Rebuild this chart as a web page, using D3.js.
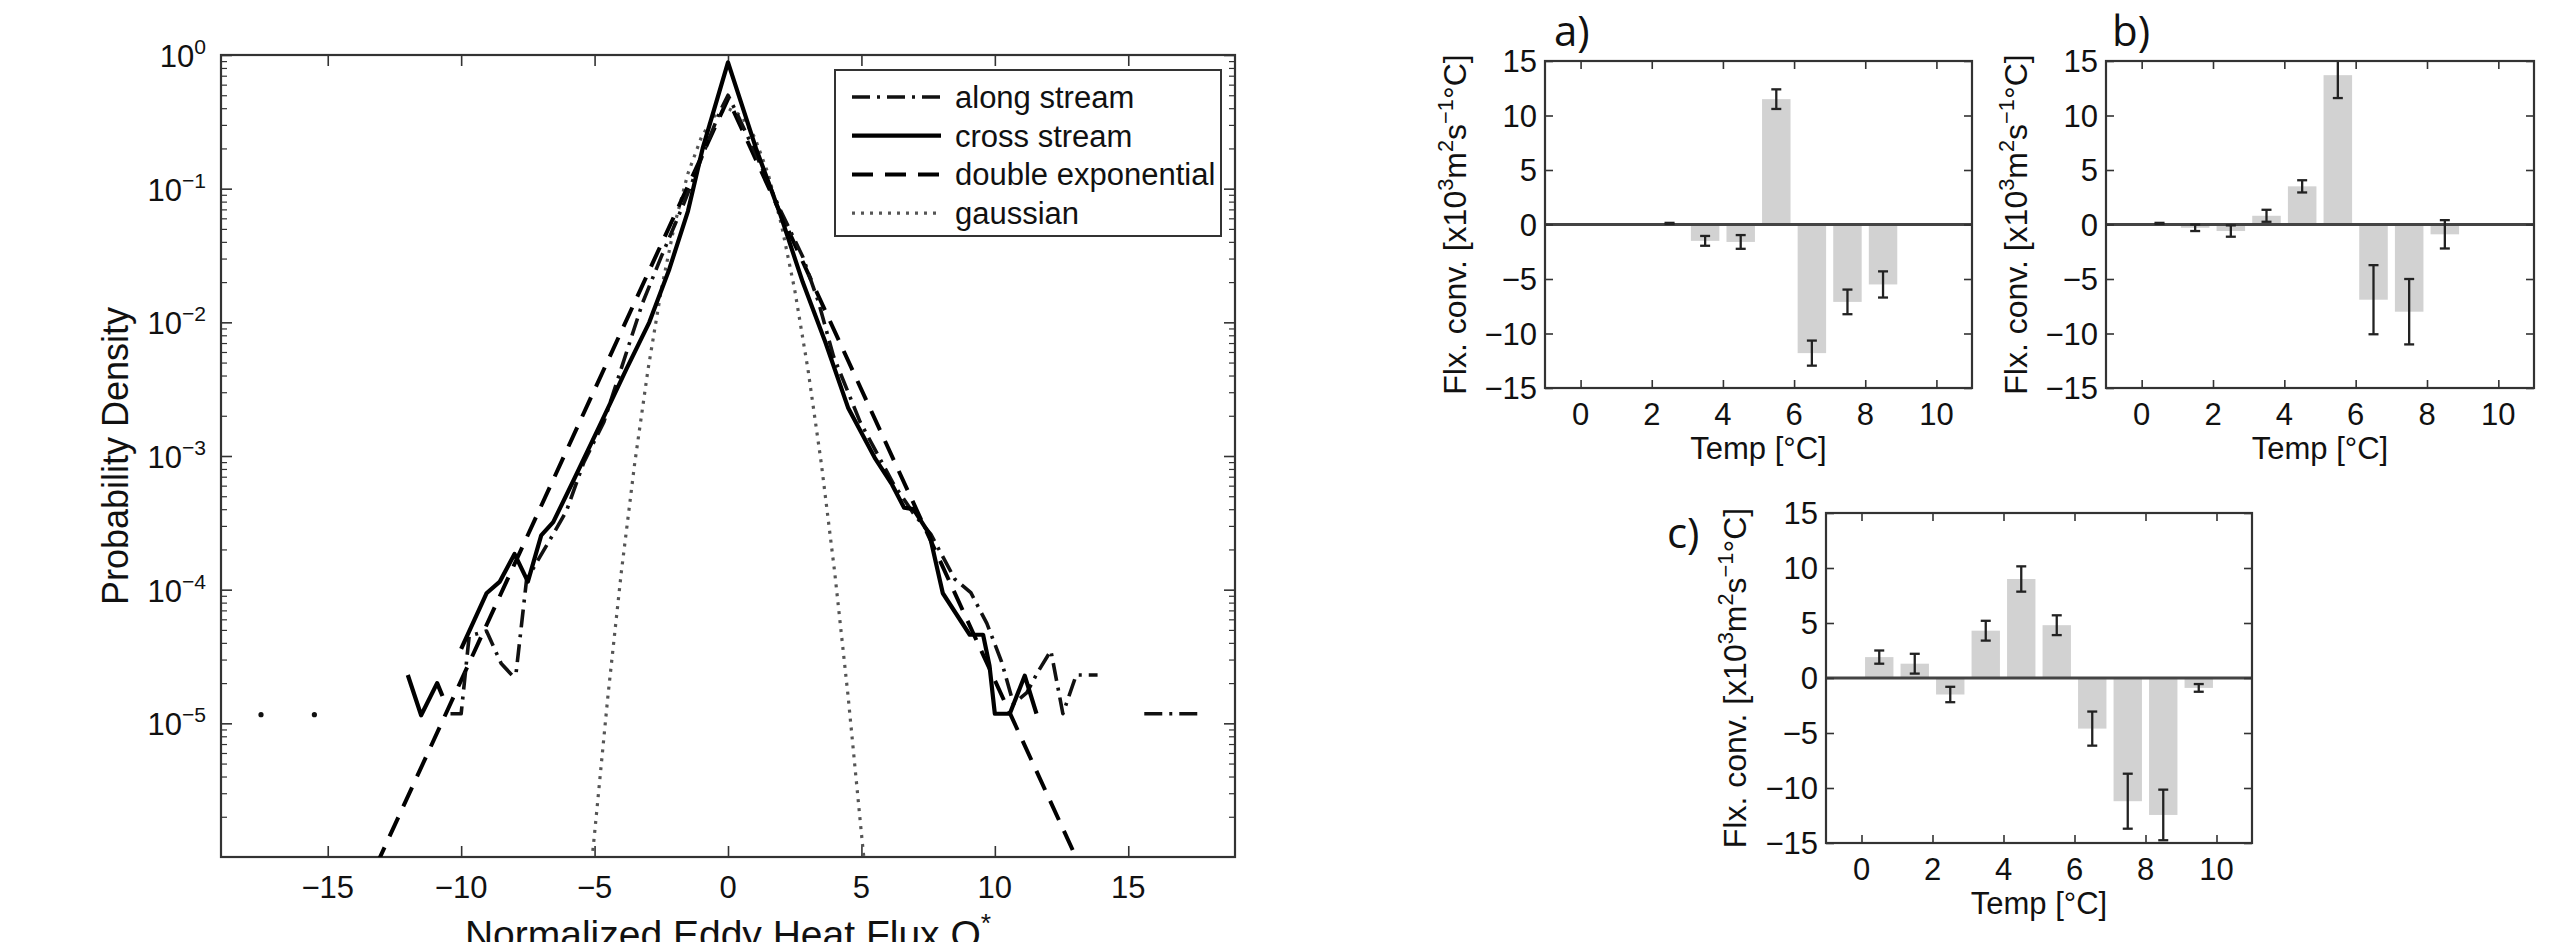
<!DOCTYPE html>
<html>
<head>
<meta charset="utf-8">
<script src="https://cdn.jsdelivr.net/npm/d3@7"></script>
<style>
  body { margin: 0; background: #fff; }
  text { font-family: "Liberation Sans", Arial, Helvetica, sans-serif; fill: #111; }
  .panel-letter { font-family: "Open Sans", "Liberation Sans", sans-serif; }
</style>
</head>
<body>
<svg id="fig" width="2572" height="942"></svg>
<script>
// ---------- dados: painel da PDF (esquerda) ----------
const pdfXDomain = [-19, 19];
const pdfYDomain = [1e-6, 1];
const pdfXTicks = [-15, -10, -5, 0, 5, 10, 15];
const pdfYExponents = [0, -1, -2, -3, -4, -5];

// [Q*, densidade]; null = bin vazio (quebra a linha)
const alongStream = [
  [-17.5, 1.16e-5], [-16.5, null], [-15.5, 1.16e-5], [-14, null],
  [-10.4, 1.18e-5], [-10.0, 1.18e-5], [-9.7, 4.5e-5], [-9.05, 4.9e-5], [-8.5, 2.8e-5],
  [-8.1, 2.3e-5], [-7.95, 2.3e-5], [-7.55, 1.18e-4], [-7.05, 1.76e-4], [-6.55, 2.6e-4],
  [-6.05, 3.9e-4], [-5.4, 9.0e-4], [-4.65, 1.8e-3], [-3.8, 6.0e-3], [-3.2, 1.4e-2],
  [-2.5, 3.1e-2], [-1.65, 7.8e-2], [-0.85, 0.2], [-0.3, 0.38], [0, 0.5], [0.35, 0.36],
  [1.05, 0.18], [1.95, 0.07], [2.8, 0.031], [3.4, 0.014], [3.95, 5.6e-3], [4.95, 1.8e-3],
  [6.2, 6.2e-4], [7.0, 3.6e-4], [7.6, 2.6e-4], [8.5, 1.2e-4], [9.1, 9.5e-5], [9.7, 5.6e-5],
  [10.25, 2.9e-5], [10.7, 1.4e-5], [11.2, 1.7e-5], [11.6, 2.4e-5], [12.1, 3.5e-5],
  [12.55, 1.18e-5], [13.05, 2.3e-5], [13.85, 2.3e-5], [14.5, null],
  [15.6, 1.18e-5], [17.7, 1.18e-5]
];
const crossStream = [
  [-12.0, 2.3e-5], [-11.5, 1.15e-5], [-10.9, 2.0e-5], [-10.7, 1.6e-5], [-10.4, null],
  [-10.0, 3.6e-5], [-9.05, 9.4e-5], [-8.55, 1.15e-4], [-8.0, 1.85e-4], [-7.5, 1.15e-4],
  [-7.0, 2.55e-4], [-6.55, 3.2e-4], [-5.8, 6.5e-4], [-4.8, 1.7e-3], [-3.8, 4.5e-3],
  [-2.95, 0.01], [-2.2, 0.025], [-1.5, 0.068], [-0.95, 0.2], [0, 0.88], [1.05, 0.2],
  [1.95, 0.065], [2.8, 0.02], [3.65, 7.1e-3], [4.5, 2.3e-3], [5.5, 9.7e-4], [6.15, 6.1e-4],
  [6.6, 4.1e-4], [6.95, 4.0e-4], [7.55, 2.6e-4], [8.05, 9.4e-5], [9.06, 4.6e-5],
  [9.56, 4.6e-5], [9.8, 2.7e-5], [10.0, 1.18e-5], [10.56, 1.18e-5], [11.12, 2.27e-5],
  [11.56, 1.18e-5]
];
const doubleExp = [[-13.2, 8.5e-7], [0, 0.47], [13.2, 8.5e-7]];
const gaussian = [
  [-5.2, 6e-7], [-5, 1.5e-6], [-4.5, 1.6e-5], [-4, 1.34e-4], [-3.5, 8.7e-4], [-3, 4.4e-3],
  [-2.5, 0.0175], [-2, 0.054], [-1.5, 0.13], [-1, 0.242], [-0.5, 0.352], [0, 0.399],
  [0.5, 0.352], [1, 0.242], [1.5, 0.13], [2, 0.054], [2.5, 0.0175], [3, 4.4e-3],
  [3.5, 8.7e-4], [4, 1.34e-4], [4.5, 1.6e-5], [5, 1.5e-6], [5.2, 6e-7]
];
const legendLabels = ["along stream", "cross stream", "double exponential", "gaussian"];

// ---------- dados: painéis de barras a), b), c) ----------
const tempCenters = [0.5, 1.5, 2.5, 3.5, 4.5, 5.5, 6.5, 7.5, 8.5, 9.5];
const tempTicks = [0, 2, 4, 6, 8, 10];
const fluxTicks = [-15, -10, -5, 0, 5, 10, 15];
const fluxA = [null, null, 0.1, -1.5, -1.6, 11.5, -11.8, -7.1, -5.5, null];
const errA  = [null, null, 0.05, 0.45, 0.63, 0.9, 1.15, 1.13, 1.2, null];
const fluxB = [0.1, -0.3, -0.6, 0.8, 3.5, 13.7, -6.9, -8.0, -0.9, null];
const errB  = [0.05, 0.3, 0.52, 0.55, 0.56, 2.1, 3.17, 3.0, 1.3, null];
const fluxC = [1.9, 1.3, -1.5, 4.3, 9.0, 4.8, -4.6, -11.2, -12.45, -0.9];
const errC  = [0.6, 0.9, 0.7, 0.9, 1.15, 0.9, 1.55, 2.5, 2.3, 0.35];

const svg = d3.select("#fig");
const axisColor = "#333";

// texto com expoentes: parts = [[texto, sobrescrito?], ...]
function richText(sel, parts, size) {
  let up = false;
  parts.forEach(([t, sup]) => {
    const ts = sel.append("tspan").text(t);
    if (sup) {
      ts.attr("font-size", size * 0.68);
      if (!up) { ts.attr("dy", -size * 0.42); up = true; }
    } else if (up) {
      ts.attr("dy", size * 0.42); up = false;
    }
  });
  return sel;
}

// caixa estilo MATLAB: ticks para dentro nos quatro lados
function boxAxes(g, x, y, box, xt, yt, len) {
  g.append("g").attr("transform", `translate(0,${box.y1})`)
    .call(d3.axisBottom(x).tickValues(xt).tickSizeInner(-len).tickSizeOuter(0).tickFormat(""));
  g.append("g").attr("transform", `translate(0,${box.y0})`)
    .call(d3.axisTop(x).tickValues(xt).tickSizeInner(-len).tickSizeOuter(0).tickFormat(""));
  g.append("g").attr("transform", `translate(${box.x0},0)`)
    .call(d3.axisLeft(y).tickValues(yt).tickSizeInner(-len).tickSizeOuter(0).tickFormat(""));
  g.append("g").attr("transform", `translate(${box.x1},0)`)
    .call(d3.axisRight(y).tickValues(yt).tickSizeInner(-len).tickSizeOuter(0).tickFormat(""));
  g.selectAll(".domain").remove();
  g.selectAll(".tick line").attr("stroke", axisColor).attr("stroke-width", 1.6);
  g.append("rect")
    .attr("x", box.x0).attr("y", box.y0)
    .attr("width", box.x1 - box.x0).attr("height", box.y1 - box.y0)
    .attr("fill", "none").attr("stroke", axisColor).attr("stroke-width", 2.2);
}

// ================= painel esquerdo =================
(function pdfPanel() {
  const box = {x0: 221, x1: 1235, y0: 55, y1: 857};
  const x = d3.scaleLinear().domain(pdfXDomain).range([box.x0, box.x1]);
  const y = d3.scaleLog().domain(pdfYDomain).range([box.y1, box.y0]);
  const g = svg.append("g");

  g.append("clipPath").attr("id", "clip-pdf")
    .append("rect").attr("x", box.x0).attr("y", box.y0)
    .attr("width", box.x1 - box.x0).attr("height", box.y1 - box.y0);

  const majors = pdfYExponents.map(e => Math.pow(10, e));
  boxAxes(g, x, y, box, pdfXTicks, majors, 11);

  // ticks menores do eixo log
  const minors = [];
  for (let e = -6; e < 0; e++) for (let m = 2; m <= 9; m++) minors.push(m * Math.pow(10, e));
  const gm = g.append("g");
  gm.append("g").attr("transform", `translate(${box.x0},0)`)
    .call(d3.axisLeft(y).tickValues(minors).tickSizeInner(-6).tickSizeOuter(0).tickFormat(""));
  gm.append("g").attr("transform", `translate(${box.x1},0)`)
    .call(d3.axisRight(y).tickValues(minors).tickSizeInner(-6).tickSizeOuter(0).tickFormat(""));
  gm.selectAll(".domain").remove();
  gm.selectAll(".tick line").attr("stroke", axisColor).attr("stroke-width", 1.2);

  // rótulos
  g.selectAll(".xlab").data(pdfXTicks).join("text")
    .attr("x", d => x(d)).attr("y", box.y1 + 41)
    .attr("text-anchor", "middle").attr("font-size", 31)
    .text(d => d < 0 ? "\u2212" + Math.abs(d) : d);
  pdfYExponents.forEach(e => {
    const t = g.append("text")
      .attr("x", box.x0 - 15).attr("y", y(Math.pow(10, e)) + 12)
      .attr("text-anchor", "end").attr("font-size", 31);
    richText(t, [["10", false], [e === 0 ? "0" : "\u2212" + Math.abs(e), true]], 31);
  });
  g.append("text")
    .attr("transform", `translate(128,${(box.y0 + box.y1) / 2}) rotate(-90)`)
    .attr("text-anchor", "middle").attr("font-size", 36)
    .text("Probability Density");
  richText(g.append("text")
    .attr("x", (box.x0 + box.x1) / 2).attr("y", 948)
    .attr("text-anchor", "middle").attr("font-size", 39),
    [["Normalized Eddy Heat Flux Q", false], ["*", true]], 39);

  // curvas
  const line = d3.line().defined(d => d[1] != null).x(d => x(d[0])).y(d => y(d[1]));
  const series = [
    {data: gaussian, stroke: "#555", width: 3.2, dash: "3 6"},
    {data: doubleExp, stroke: "#000", width: 4, dash: "21 12"},
    {data: alongStream, stroke: "#111", width: 3.6, dash: "18 7 3 7"},
    {data: crossStream, stroke: "#000", width: 4.2, dash: null}
  ];
  const plot = g.append("g").attr("clip-path", "url(#clip-pdf)");
  series.forEach(s => {
    plot.append("path").attr("d", line(s.data))
      .attr("fill", "none").attr("stroke", s.stroke).attr("stroke-width", s.width)
      .attr("stroke-dasharray", s.dash).attr("stroke-linejoin", "round");
  });
  // pontos isolados (bins cercados por zeros)
  const lone = alongStream.filter((d, i, a) => d[1] != null &&
    (i === 0 || a[i - 1][1] == null) && (i === a.length - 1 || a[i + 1][1] == null));
  plot.selectAll(".lone").data(lone).join("circle")
    .attr("cx", d => x(d[0])).attr("cy", d => y(d[1])).attr("r", 2.6).attr("fill", "#111");

  // legenda
  const lg = g.append("g");
  lg.append("rect").attr("x", 835).attr("y", 70).attr("width", 386).attr("height", 166)
    .attr("fill", "#fff").attr("stroke", axisColor).attr("stroke-width", 2);
  const order = [series[2], series[3], series[1], series[0]];
  legendLabels.forEach((lab, i) => {
    const yy = 97 + i * 38.7;
    lg.append("line").attr("x1", 852).attr("x2", 941).attr("y1", yy).attr("y2", yy)
      .attr("stroke", order[i].stroke).attr("stroke-width", order[i].width)
      .attr("stroke-dasharray", order[i].dash);
    lg.append("text").attr("x", 955).attr("y", yy + 11).attr("font-size", 31).text(lab);
  });
})();

// ================= painéis de barras =================
function barPanel(box, values, errs, letter, letterPos, labelX) {
  const x = d3.scaleLinear().domain([-1, 11]).range([box.x0, box.x1]);
  const y = d3.scaleLinear().domain([-15, 15]).range([box.y1, box.y0]);
  const g = svg.append("g");
  const bw = x(0.8) - x(0);
  const rows = tempCenters.map((t, i) => ({t, v: values[i], e: errs[i]})).filter(d => d.v != null);

  g.selectAll(".bar").data(rows).join("rect")
    .attr("x", d => x(d.t) - bw / 2).attr("width", bw)
    .attr("y", d => y(Math.max(0, d.v))).attr("height", d => Math.abs(y(d.v) - y(0)))
    .attr("fill", "#d2d2d2");

  g.append("line").attr("x1", box.x0).attr("x2", box.x1)
    .attr("y1", y(0)).attr("y2", y(0)).attr("stroke", "#444").attr("stroke-width", 2.8);

  // barras de erro (cortadas na caixa)
  const ey = v => y(Math.max(-15, Math.min(15, v)));
  const eb = g.append("g").attr("stroke", "#222").attr("stroke-width", 2.3);
  rows.forEach(d => {
    const top = d.v + d.e, bot = d.v - d.e;
    eb.append("line").attr("x1", x(d.t)).attr("x2", x(d.t)).attr("y1", ey(top)).attr("y2", ey(bot));
    [top, bot].forEach(v => {
      if (Math.abs(v) <= 15) eb.append("line").attr("x1", x(d.t) - 5).attr("x2", x(d.t) + 5)
        .attr("y1", y(v)).attr("y2", y(v));
    });
  });

  boxAxes(g, x, y, box, tempTicks, fluxTicks, 8);

  g.selectAll(".xl").data(tempTicks).join("text")
    .attr("x", d => x(d)).attr("y", box.y1 + 37)
    .attr("text-anchor", "middle").attr("font-size", 31).text(d => d);
  g.selectAll(".yl").data(fluxTicks).join("text")
    .attr("x", box.x0 - 8).attr("y", d => y(d) + 11)
    .attr("text-anchor", "end").attr("font-size", 31)
    .text(d => d < 0 ? "\u2212" + Math.abs(d) : d);
  g.append("text").attr("x", (box.x0 + box.x1) / 2).attr("y", box.y1 + 71)
    .attr("text-anchor", "middle").attr("font-size", 31).text("Temp [\u00b0C]");
  richText(g.append("text")
    .attr("transform", `translate(${labelX},${(box.y0 + box.y1) / 2}) rotate(-90)`)
    .attr("text-anchor", "middle").attr("font-size", 32),
    [["Flx. conv. [x10", false], ["3", true], ["m", false], ["2", true], ["s", false],
     ["\u22121", true], ["\u00b0C]", false]], 32);
  g.append("text").attr("class", "panel-letter")
    .attr("x", letterPos[0]).attr("y", letterPos[1]).attr("font-size", 42).text(letter);
}

barPanel({x0: 1545, x1: 1972, y0: 61, y1: 388}, fluxA, errA, "a)", [1554, 46], 1466);
barPanel({x0: 2106, x1: 2534, y0: 61, y1: 388}, fluxB, errB, "b)", [2112, 46], 2027);
barPanel({x0: 1826, x1: 2252, y0: 513, y1: 843}, fluxC, errC, "c)", [1667, 548], 1746);
</script>
</body>
</html>
